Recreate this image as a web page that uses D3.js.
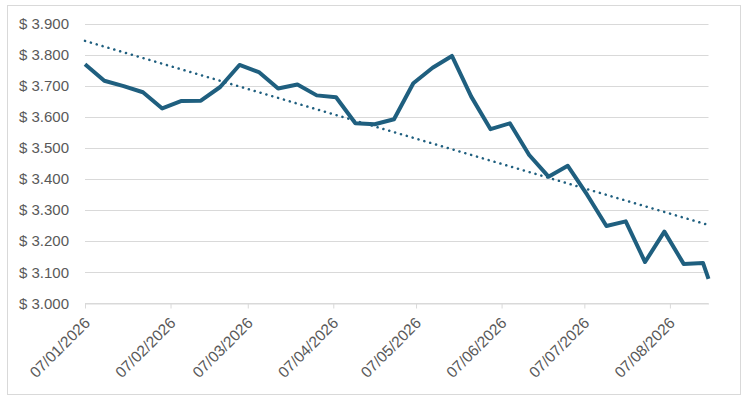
<!DOCTYPE html>
<html>
<head>
<meta charset="utf-8">
<script src="https://d3js.org/d3.v7.min.js"></script>
<style>
  body { margin: 0; background: #fff; }
  text { font-family: "Liberation Sans", Arial, sans-serif; }
</style>
</head>
<body>
<script>
// weekly prices (last one is a mid-week reading)
var dates = ["2026-01-07", "2026-01-14", "2026-01-21", "2026-01-28", "2026-02-04", "2026-02-11",
  "2026-02-18", "2026-02-25", "2026-03-04", "2026-03-11", "2026-03-18", "2026-03-25",
  "2026-04-01", "2026-04-08", "2026-04-15", "2026-04-22", "2026-04-29", "2026-05-06",
  "2026-05-13", "2026-05-20", "2026-05-27", "2026-06-03", "2026-06-10", "2026-06-17",
  "2026-06-24", "2026-07-01", "2026-07-08", "2026-07-15", "2026-07-22", "2026-07-29",
  "2026-08-05", "2026-08-12", "2026-08-19", "2026-08-21"]
var prices = [3.770, 3.717, 3.700, 3.680, 3.628, 3.652,
  3.653, 3.697, 3.768, 3.745, 3.692, 3.705,
  3.670, 3.664, 3.580, 3.577, 3.593, 3.709,
  3.759, 3.797, 3.666, 3.561, 3.580, 3.478,
  3.408, 3.443, 3.350, 3.249, 3.264, 3.133,
  3.231, 3.127, 3.130, 3.079]
var tickDates = ["2026-01-07", "2026-02-07", "2026-03-07", "2026-04-07",
  "2026-05-07", "2026-06-07", "2026-07-07", "2026-08-07"]
var yTicks = [3.0, 3.1, 3.2, 3.3, 3.4, 3.5, 3.6, 3.7, 3.8, 3.9]

var parse = d3.utcParse("%Y-%m-%d")
var data = dates.map(function(d, i) { return {date: parse(d), price: prices[i]} })

var W = 746, H = 400
var svg = d3.select("body").append("svg")
  .attr("width", W)
  .attr("height", H)

// chart frame
svg.append("rect")
  .attr("x", 7.5).attr("y", 5.5)
  .attr("width", 733).attr("height", 389)
  .attr("fill", "#fff")
  .attr("stroke", "#d9d9d9")

var x = d3.scaleUtc()
  .domain(d3.extent(data, function(d) { return d.date }))
  .range([85, 708.5])
var y = d3.scaleLinear()
  .domain([3.0, 3.9])
  .range([303.3, 24])

// gridlines
svg.append("g")
  .selectAll("line")
  .data(yTicks)
  .enter().append("line")
    .attr("x1", x.range()[0]).attr("x2", x.range()[1])
    .attr("y1", function(d) { return Math.round(y(d)) + 0.5 })
    .attr("y2", function(d) { return Math.round(y(d)) + 0.5 })
    .attr("stroke", "#d9d9d9")
    .attr("stroke-width", 1)

// y labels
svg.append("g")
  .selectAll("text")
  .data(yTicks)
  .enter().append("text")
    .attr("x", 69)
    .attr("y", function(d) { return y(d) })
    .attr("dy", "0.35em")
    .attr("text-anchor", "end")
    .attr("font-size", 15)
    .attr("fill", "#595959")
    .text(function(d) { return "$ " + d3.format(".3f")(d) })

// x axis
var xAxis = d3.axisBottom(x)
  .tickValues(tickDates.map(parse))
  .tickFormat(d3.utcFormat("%d/%m/%Y"))
  .tickSize(5)
  .tickSizeOuter(0)

var gx = svg.append("g")
  .attr("transform", "translate(0," + (Math.round(y(3.0)) + 0.5) + ")")
  .call(xAxis)
gx.select(".domain").attr("stroke", "#d9d9d9")
gx.selectAll(".tick line").attr("stroke", "#d9d9d9")
gx.selectAll(".tick text")
  .attr("font-family", "Liberation Sans, Arial, sans-serif")
  .attr("font-size", 15.5)
  .attr("fill", "#595959")
  .attr("text-anchor", "end")
  .attr("dy", "0.35em")
  .attr("transform", "translate(-4,11) rotate(-45)")

// linear trend (least squares on time)
var xs = data.map(function(d) { return +d.date })
var mx = d3.mean(xs), my = d3.mean(prices)
var sxy = d3.sum(data, function(d) { return (+d.date - mx) * (d.price - my) })
var sxx = d3.sum(xs, function(v) { return (v - mx) * (v - mx) })
var slope = sxy / sxx
var trend = x.domain().map(function(t) { return {date: t, price: my + slope * (+t - mx)} })

var line = d3.line()
  .x(function(d) { return x(d.date) })
  .y(function(d) { return y(d.price) })

svg.append("path")
  .datum(trend)
  .attr("d", line)
  .attr("fill", "none")
  .attr("stroke", "#1f5f7f")
  .attr("stroke-width", 2.5)
  .attr("stroke-linecap", "round")
  .attr("stroke-dasharray", "0.1 6")

svg.append("path")
  .datum(data)
  .attr("d", line)
  .attr("fill", "none")
  .attr("stroke", "#1f5f7f")
  .attr("stroke-width", 4)
  .attr("stroke-linejoin", "round")
</script>
</body>
</html>
